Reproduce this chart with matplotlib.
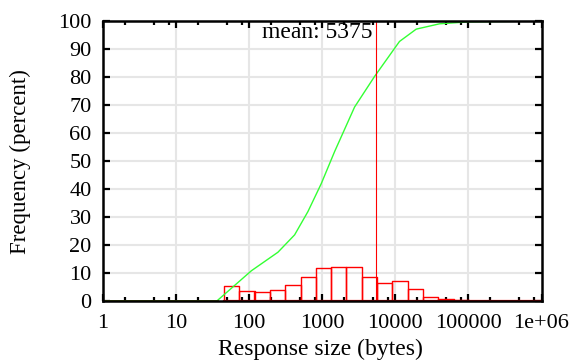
import numpy as np
import matplotlib
matplotlib.use('Agg')
import matplotlib.pyplot as plt
from matplotlib.ticker import LogLocator, FixedLocator, NullFormatter

# dati
bin_left = [45.5, 73.7, 119, 193, 313, 507, 821, 1330, 2155, 3490,
            5655, 9160, 14840, 24040, 38950, 63100, 102200, 165600, 268300, 434600]
bin_ratio = 1.621
freq = [5.5, 3.8, 3.2, 3.9, 5.7, 8.8, 11.8, 12.4, 12.1, 8.6,
        6.6, 7.4, 4.3, 1.6, 0.7, 0.4, 0.2, 0.1, 0.1, 0.05]

cdf_x = [1, 36, 108, 249, 421, 640, 975, 1482, 2780, 5210, 11430, 19360, 40300, 100000, 1000000]
cdf_y = [0, 0, 10.9, 17.5, 23.7, 32, 42, 53.4, 69.3, 80.2, 92.7, 97.1, 99.0, 99.7, 100]

mean_size = 5375
xtick_vals = [1, 10, 100, 1000, 10000, 100000, 1000000]
xtick_labels = ['1', '10', '100', '1000', '10000', '100000', '1e+06']
ytick_vals = list(range(0, 101, 10))

plt.rcParams['font.family'] = ['Liberation Serif', 'DejaVu Serif']

fig = plt.figure(figsize=(5.72, 3.61), dpi=100)
ax = fig.add_axes([0.1795, 0.1654, 0.9467 - 0.1795, 0.9418 - 0.1654])

ax.set_xscale('log')
ax.set_xlim(1, 1e6)
ax.set_ylim(0, 100)

# griglia
for v in xtick_vals[1:-1]:
    ax.axvline(v, color='#e6e6e6', lw=1.5, zorder=0)
for v in ytick_vals[1:-1]:
    ax.axhline(v, color='#e6e6e6', lw=1.5, zorder=0)

# istogramma
edges_r = [b * bin_ratio for b in bin_left]
for l, r, h in zip(bin_left, edges_r, freq):
    ax.plot([l, l, r, r], [0, h, h, 0], color='red', lw=1.0, zorder=3)
ax.plot([bin_left[0], 1e6], [0.15, 0.15], color='red', lw=1.6, zorder=3)

# cumulata
cx = np.array(cdf_x, dtype=float)
cy = np.array(cdf_y, dtype=float)
ax.plot(cx, cy, color='#33ff33', lw=1.0, zorder=4)
flat = cy == 0
ax.plot(cx[flat], cy[flat] + 0.15, color='#6b7a00', lw=2.0, zorder=5)

# media
ax.axvline(mean_size, color='red', lw=0.8, zorder=4)
ax.text(mean_size * 0.91, 95.8, 'mean: %d' % mean_size, ha='right', va='center', fontsize=17)

ax.xaxis.set_major_locator(FixedLocator(xtick_vals))
ax.set_xticklabels(xtick_labels)
ax.xaxis.set_minor_locator(LogLocator(base=10, subs=[2, 5, 8]))
ax.xaxis.set_minor_formatter(NullFormatter())
ax.set_yticks(ytick_vals)

ax.tick_params(which='major', direction='in', length=5, width=1.6, top=True, right=True,
               labelsize=16, pad=8)
ax.tick_params(which='minor', direction='in', length=3, width=1.6, top=True, right=True)
ax.tick_params(axis='x', pad=9)
for s in ax.spines.values():
    s.set_linewidth(1.8)
    s.set_zorder(6)

ax.set_xlabel('Response size (bytes)', fontsize=17)
ax.set_ylabel('Frequency (percent)', fontsize=16.5)
ax.xaxis.set_label_coords(0.496, -0.135)
ax.yaxis.set_label_coords(-0.163, 0.5)

plt.savefig('out.png', dpi=100)
plt.close()
